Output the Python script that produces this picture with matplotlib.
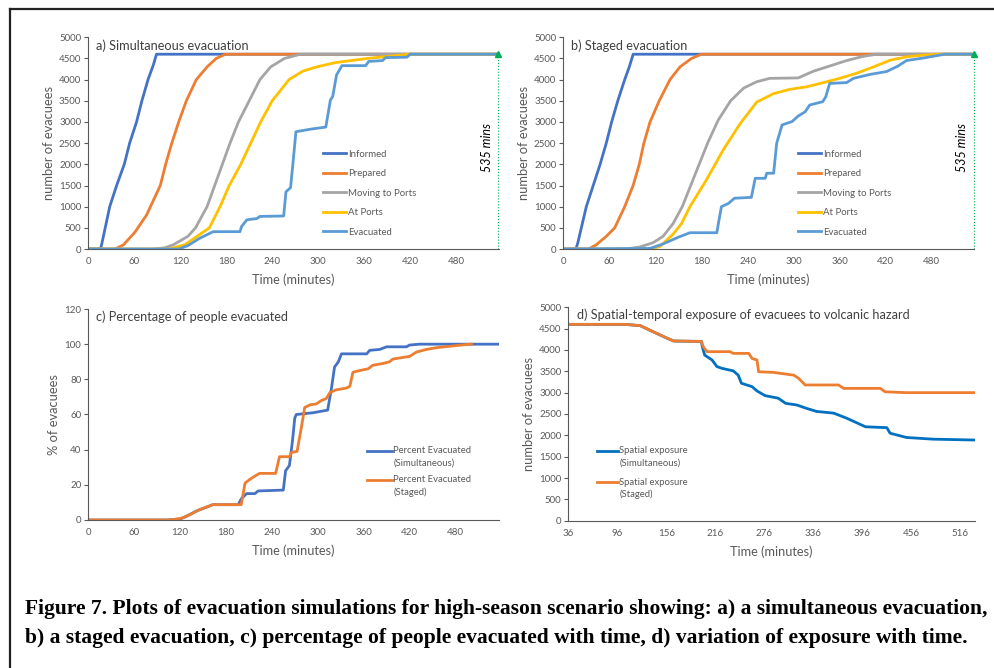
import matplotlib
matplotlib.use('Agg')
import matplotlib.pyplot as plt
from matplotlib.lines import Line2D

plt.rcParams['font.family'] = ['Lato', 'DejaVu Sans']

# ---- a) simultaneous evacuation (minutes, evacuees)
inf_a_t = [0, 16, 18, 28, 37, 47, 54, 63, 70, 78, 85, 89, 536]
inf_a_y = [0, 0, 150, 1000, 1500, 2000, 2500, 3000, 3500, 4000, 4350, 4600, 4600]
prep_a_t = [0, 35, 46, 61, 76, 94, 101, 109, 118, 128, 141, 155, 167, 179, 536]
prep_a_y = [0, 0, 100, 400, 800, 1500, 2000, 2500, 3000, 3500, 4000, 4300, 4500, 4600, 4600]
move_a_t = [0, 85, 100, 111, 130, 140, 155, 165, 175, 185, 196, 210, 224, 238, 256, 277, 536]
move_a_y = [0, 0, 30, 100, 300, 500, 1000, 1500, 2000, 2500, 3000, 3500, 4000, 4300, 4500, 4600, 4600]
ports_a_t = [0, 105, 126, 142, 158, 172, 184, 199, 212, 225, 240, 262, 280, 298, 322, 364, 420, 536]
ports_a_y = [0, 0, 100, 300, 500, 1000, 1500, 2000, 2500, 3000, 3500, 4000, 4200, 4300, 4400, 4500, 4600, 4600]
evac_a_t = [0, 118, 130, 145, 163, 198, 200, 207, 220, 224, 255, 258, 264, 267, 271, 290, 310, 316,
            319, 324, 331, 362, 366, 384, 388, 416, 420, 536]
evac_a_y = [0, 0, 80, 250, 410, 410, 530, 690, 720, 770, 780, 1350, 1450, 2000, 2770, 2830, 2880, 3520,
            3600, 4110, 4330, 4330, 4430, 4450, 4520, 4530, 4600, 4600]

# ---- b) staged evacuation
inf_b_t = [0, 16.5, 19, 30, 48, 56, 63, 71, 80, 86, 91, 535]
inf_b_y = [0, 0, 150, 1000, 2000, 2500, 3000, 3500, 4000, 4300, 4600, 4600]
prep_b_t = [0, 33, 43, 56, 67, 80, 91, 99, 105, 113, 125, 139, 152, 167, 180, 535]
prep_b_y = [0, 0, 100, 300, 500, 1000, 1500, 2000, 2500, 3000, 3500, 4000, 4300, 4500, 4600, 4600]
move_b_t = [0, 82, 100, 117, 130, 143, 155, 166, 177, 188, 202, 218, 235, 252, 269, 306, 326, 352,
            369, 391, 408, 535]
move_b_y = [0, 0, 50, 150, 300, 600, 1000, 1500, 2000, 2500, 3050, 3500, 3800, 3950, 4030, 4040, 4200,
            4350, 4450, 4550, 4600, 4600]
ports_b_t = [0, 113, 126, 143, 154, 165, 187, 208, 230, 252, 274, 295, 317, 339, 360, 382, 404, 426,
             448, 470, 490, 535]
ports_b_y = [0, 0, 60, 350, 600, 1000, 1650, 2330, 2950, 3470, 3670, 3770, 3830, 3930, 4030, 4150,
             4300, 4460, 4540, 4580, 4600, 4600]
evac_b_t = [0, 113, 130, 150, 165, 200, 203, 206, 215, 223, 245, 250, 263, 265, 274, 278, 285, 298,
            306, 315, 321, 338, 342, 347, 369, 378, 400, 421, 436, 447, 469, 497, 535]
evac_b_y = [0, 15, 120, 280, 385, 385, 700, 1000, 1075, 1200, 1220, 1670, 1670, 1790, 1790, 2500, 2930,
            3010, 3140, 3240, 3400, 3480, 3600, 3910, 3930, 4030, 4125, 4190, 4320, 4450, 4510, 4600, 4600]

# ---- c) percentage evacuated
pct_sim_t = [0, 102, 120, 128, 141, 159, 163, 196, 200, 207, 218, 222, 255, 258, 263, 267, 270, 272,
             294, 313, 318, 322, 327, 331, 364, 368, 381, 390, 416, 420, 433, 537]
pct_sim_y = [0, 0, 0.5, 2, 5, 8, 8.7, 8.7, 12, 15, 15, 16.5, 17, 28, 31, 45, 58, 60,
             61, 62.5, 75, 87, 90, 94.5, 94.5, 96.5, 97, 98.5, 98.5, 99.5, 100, 100]
pct_stg_t = [0, 107, 122, 133, 146, 163, 200, 205, 211, 218, 224, 245, 250, 263, 266, 273, 278, 283,
             290, 298, 305, 311, 316, 324, 337, 342, 346, 355, 366, 372, 385, 394, 398, 412, 420, 429,
             442, 455, 477, 499, 501]
pct_stg_y = [0, 0, 1, 3, 6, 8.7, 8.7, 21, 23, 25, 26.5, 26.5, 36, 36, 38.5, 39, 51, 64,
             65.5, 66, 68, 69, 72.5, 74, 75, 76, 84, 85, 86, 88, 89, 90, 91.5, 92.5, 93, 95.5,
             97, 98, 99, 100, 100]

# ---- d) exposure
exp_sim_t = [36, 105, 124, 144, 157, 165, 199, 200, 203, 212, 218, 224, 238, 244, 248, 261, 267, 277,
             293, 302, 316, 328, 340, 361, 377, 400, 426, 430, 450, 483, 534]
exp_sim_y = [4600, 4600, 4570, 4390, 4275, 4210, 4200, 4080, 3880, 3765, 3610, 3570, 3510, 3410, 3220,
             3140, 3040, 2930, 2870, 2750, 2710, 2630, 2560, 2520, 2400, 2200, 2180, 2050, 1950, 1910, 1890]
exp_stg_t = [36, 105, 124, 144, 157, 165, 199, 201, 206, 234, 238, 257, 261, 267, 269, 287, 312, 318,
             326, 367, 373, 418, 424, 450, 534]
exp_stg_y = [4600, 4600, 4570, 4390, 4275, 4210, 4200, 4080, 3960, 3960, 3920, 3920, 3800, 3765, 3490,
             3475, 3410, 3335, 3180, 3180, 3100, 3100, 3020, 3000, 3000]

stage_names = ['Informed', 'Prepared', 'Moving to Ports', 'At Ports', 'Evacuated']
stage_colors = ['#4472C4', '#ED7D31', '#A5A5A5', '#FFC000', '#5B9BD5']
ticks_ab = [0, 60, 120, 180, 240, 300, 360, 420, 480]
ticks_d = [36, 96, 156, 216, 276, 336, 396, 456, 516]

grey = '#595959'
fig = plt.figure(figsize=(9.95, 6.68), dpi=100)


def style(ax, ylabel, pad=3):
    for s in ['top', 'right']:
        ax.spines[s].set_visible(False)
    for s in ['left', 'bottom']:
        ax.spines[s].set_color(grey)
        ax.spines[s].set_linewidth(0.8)
    ax.tick_params(axis='y', length=3, width=0.8, color=grey, labelsize=7, labelcolor=grey, pad=2)
    ax.tick_params(axis='x', length=0, labelsize=7, labelcolor=grey, pad=6)
    ax.set_xlabel('Time (minutes)', fontsize=9.2, color=grey, labelpad=5)
    ax.set_ylabel(ylabel, fontsize=9.3, color=grey, labelpad=pad)


def stages_panel(rect, series, xmax, title):
    ax = fig.add_axes(rect)
    for (t, y), name, c in zip(series, stage_names, stage_colors):
        ax.plot(t, y, color=c, lw=2.0, label=name)
    ax.set_xlim(0, xmax)
    ax.set_ylim(0, 5000)
    ax.set_xticks(ticks_ab)
    ax.set_yticks(range(0, 5001, 500))
    style(ax, 'number of evacuees')
    ax.text(0.02, 0.96, title, transform=ax.transAxes, fontsize=9.2, color='#404040', va='center')
    # 535 minute marker
    ax.plot([535, 535], [0, 4540], ls=':', color='#00B050', lw=0.8, clip_on=False)
    ax.plot([535], [4600], marker='^', color='#00B050', ms=4.5, clip_on=False)
    ax.text(520, 2400, '535 mins', rotation=90, style='italic', fontsize=9, ha='center', va='center')
    ax.legend(loc='upper left', bbox_to_anchor=(0.571, 0.47), frameon=False, fontsize=6.9,
              handlelength=2.4, handletextpad=0.2, labelspacing=1.1, borderpad=0, borderaxespad=0,
              labelcolor=grey)
    return ax


stages_panel([0.0887, 0.6272, 0.4128, 0.317],
             [(inf_a_t, inf_a_y), (prep_a_t, prep_a_y), (move_a_t, move_a_y),
              (ports_a_t, ports_a_y), (evac_a_t, evac_a_y)], 536, 'a) Simultaneous evacuation')
stages_panel([0.5661, 0.6272, 0.4128, 0.317],
             [(inf_b_t, inf_b_y), (prep_b_t, prep_b_y), (move_b_t, move_b_y),
              (ports_b_t, ports_b_y), (evac_b_t, evac_b_y)], 535, 'b) Staged evacuation')


def manual_legend(ax, x0, x1, entries):
    for (y1, y2, l1, l2, c) in entries:
        ax.add_line(Line2D([x0, x1], [y1, y1], transform=ax.transAxes, color=c, lw=2.0))
        ax.text(x1 + 0.003, y1, l1, transform=ax.transAxes, fontsize=6.8, color=grey, va='center')
        ax.text(x1 + 0.003, y2, l2, transform=ax.transAxes, fontsize=6.8, color=grey, va='center')


# c)
axc = fig.add_axes([0.0887, 0.2216, 0.4128, 0.3158])
axc.plot(pct_sim_t, pct_sim_y, color='#4472C4', lw=2.0)
axc.plot(pct_stg_t, pct_stg_y, color='#ED7D31', lw=2.0)
axc.set_xlim(0, 537)
axc.set_ylim(0, 120)
axc.set_xticks(ticks_ab)
axc.set_yticks(range(0, 121, 20))
style(axc, '% of evacuees', pad=3)
axc.text(0.02, 0.962, 'c) Percentage of people evacuated', transform=axc.transAxes, fontsize=9.2,
         color='#404040', va='center')
manual_legend(axc, 0.679, 0.740, [(0.327, 0.27, 'Percent Evacuated', '(Simultaneous)', '#4472C4'),
                                  (0.19, 0.133, 'Percent Evacuated', '(Staged)', '#ED7D31')])

# d)
axd = fig.add_axes([0.5712, 0.2205, 0.4087, 0.3195])
axd.plot(exp_sim_t, exp_sim_y, color='#0070C0', lw=2.0)
axd.plot(exp_stg_t, exp_stg_y, color='#ED7D31', lw=2.0)
axd.set_xlim(36, 534)
axd.set_ylim(0, 5000)
axd.set_xticks(ticks_d)
axd.set_yticks(range(0, 5001, 500))
style(axd, 'number of evacuees')
axd.text(0.021, 0.964, 'd) Spatial-temporal exposure of evacuees to volcanic hazard',
         transform=axd.transAxes, fontsize=9.1, color='#404040', va='center')
manual_legend(axd, 0.0706, 0.122, [(0.327, 0.27, 'Spatial exposure', '(Simultaneous)', '#0070C0'),
                                   (0.181, 0.125, 'Spatial exposure', '(Staged)', '#ED7D31')])

# caption and frame
cap1 = ('Figure 7. Plots of evacuation simulations for high-season scenario showing: '
        'a) a simultaneous evacuation,')
cap2 = ('b) a staged evacuation, c) percentage of people evacuated with time, '
        'd) variation of exposure with time.')
fig.text(25 / 995, 1 - 609 / 668, cap1, family='Liberation Serif', weight='bold', fontsize=15.5, va='center')
fig.text(25 / 995, 1 - 638 / 668, cap2, family='Liberation Serif', weight='bold', fontsize=15.5, va='center')
fig.add_artist(Line2D([10 / 995, 1], [1 - 9 / 668] * 2, color='#222222', lw=1.6))
fig.add_artist(Line2D([10 / 995] * 2, [0, 1 - 9 / 668], color='#222222', lw=1.6))

plt.savefig('out.png', dpi=100)
